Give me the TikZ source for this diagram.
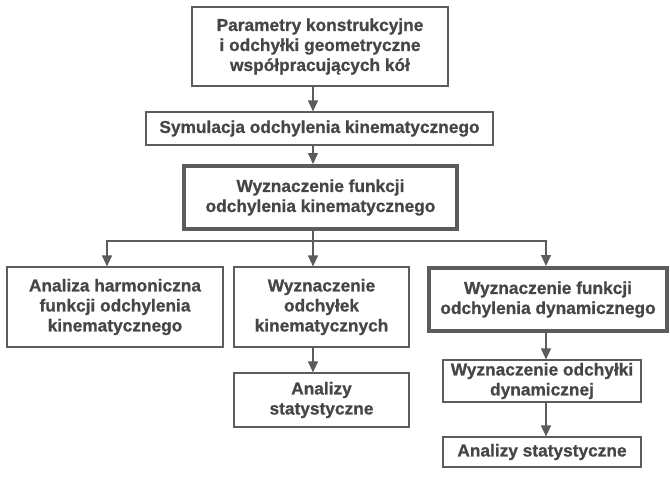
\documentclass[tikz,border=0pt]{standalone}
\usepackage{fontspec}
\setmainfont{Liberation Sans}[BoldFeatures={FakeBold=0.8}]
\usetikzlibrary{arrows.meta}
\definecolor{ink}{HTML}{464646}
\definecolor{edge}{HTML}{5C5C5C}
\begin{document}
\begin{tikzpicture}[x=1pt,y=-1pt,
  box/.style={draw=edge,line width=1.2pt,fill=white,inner sep=0pt,align=center,
    text=ink,font=\fontsize{17.3}{20}\selectfont\bfseries},
  thickbox/.style={box,line width=4pt},
  conn/.style={draw=edge,line width=1.2pt},
  arr/.style={conn,-{Triangle[width=10pt,length=11pt]}}]
\useasboundingbox[fill=white] (0,0) rectangle (670,477);
\node[box,minimum width=256,minimum height=79] (b1) at (320,46.5)
  {Parametry konstrukcyjne\\i odchyłki geometryczne\\współpracujących kół};
\node[box,minimum width=347,minimum height=33] (b2) at (319.5,128.5)
  {Symulacja odchylenia kinematycznego};
\node[thickbox,minimum width=273,minimum height=63] (b3) at (320.5,197.5)
  {Wyznaczenie funkcji\\odchylenia kinematycznego};
\node[box,minimum width=216,minimum height=80] (b4) at (115,307)
  {Analiza harmoniczna\\funkcji odchylenia\\kinematycznego};
\node[box,minimum width=175,minimum height=80] (b5) at (321.5,307)
  {Wyznaczenie\\odchyłek\\kinematycznych};
\node[box,minimum width=175,minimum height=54] (b6) at (321.5,400)
  {Analizy\\statystyczne};
\node[thickbox,minimum width=238,minimum height=63] (b7) at (548,299.5)
  {Wyznaczenie funkcji\\odchylenia dynamicznego};
\node[box,minimum width=198,minimum height=42] (b8) at (542,381)
  {Wyznaczenie odchyłki\\dynamicznej};
\node[box,minimum width=198,minimum height=30] (b9) at (542,452)
  {Analizy statystyczne};
\coordinate (cm) at (313,0);
\coordinate (cl) at (107,0);
\coordinate (cr) at (546,0);
\coordinate (split) at (313,241);
\draw[arr] (b1.south -| cm) -- (b2.north -| cm);
\draw[arr] (b2.south -| cm) -- (b3.north -| cm);
\draw[conn] (b3.south -| cm) -- (split);
\draw[arr] (split) -- (b5.north -| cm);
\draw[arr] (split) -| (b4.north -| cl);
\draw[arr] (split) -| (b7.north -| cr);
\draw[arr] (b5.south -| cm) -- (b6.north -| cm);
\draw[arr] (b7.south -| cr) -- (b8.north -| cr);
\draw[arr] (b8.south -| cr) -- (b9.north -| cr);
\end{tikzpicture}
\end{document}
